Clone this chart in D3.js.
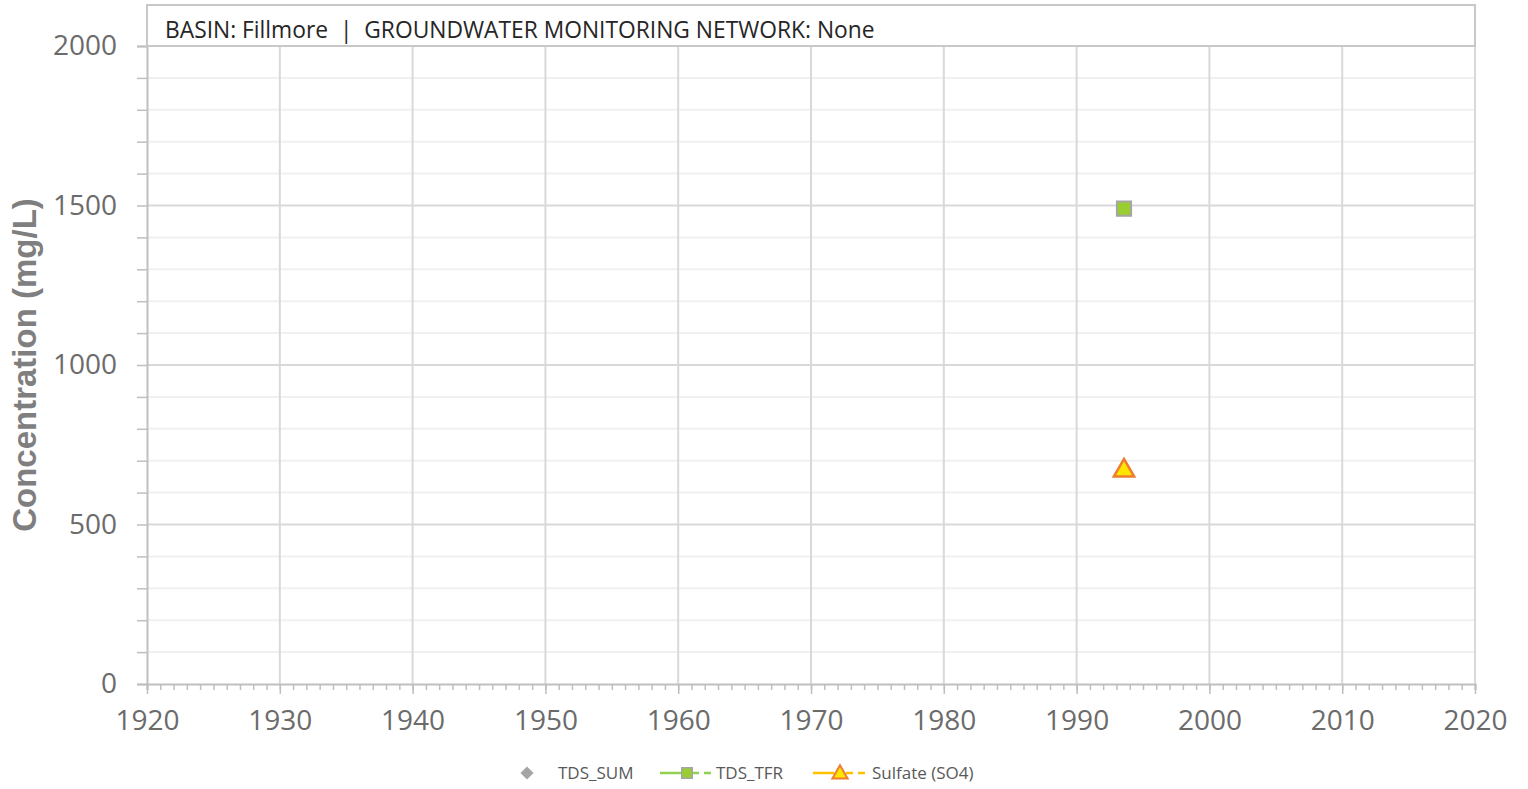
<!DOCTYPE html>
<html>
<head>
<meta charset="utf-8">
<script src="https://cdn.jsdelivr.net/npm/d3@7"></script>
<style>
  body { margin: 0; background: #fff; }
  svg { display: block; }
</style>
</head>
<body>
<div id="chart"></div>
<script>
// header and axis text
const headerText = "BASIN: Fillmore  |  GROUNDWATER MONITORING NETWORK: None";
const yTitle = "Concentration (mg/L)";

// x ticks (years) and y ticks
const xTickYears = [1920, 1930, 1940, 1950, 1960, 1970, 1980, 1990, 2000, 2010, 2020];
const yTicks = [0, 500, 1000, 1500, 2000];

// series data
const seriesNames = ["TDS_SUM", "TDS_TFR", "Sulfate (SO4)"];
const tdsSumDates = [];
const tdsSumValues = [];
const tdsTfrDates = ["1993-07-27"];
const tdsTfrValues = [1490];
const sulfateDates = ["1993-07-27"];
const sulfateValues = [675];

document.addEventListener("DOMContentLoaded", function() {
  drawChart();
});

function drawChart() {
  const width = 1528, height = 789;
  const margin = { left: 147, right: 53, top: 46, bottom: 105 };

  const svg = d3.select("#chart")
    .append("svg")
    .attr("width", width)
    .attr("height", height);

  const parse = d3.timeParse("%Y-%m-%d");

  const x = d3.scaleTime()
    .domain([new Date(1920, 0, 1), new Date(2020, 0, 1)])
    .range([margin.left, width - margin.right]);

  const y = d3.scaleLinear()
    .domain([0, 2000])
    .range([height - margin.bottom, margin.top]);

  // minor y gridlines every 100
  const yMinor = d3.range(100, 2000, 100).filter(v => v % 500 !== 0);
  svg.append("g")
    .selectAll("line")
    .data(yMinor)
    .enter()
    .append("line")
    .attr("x1", margin.left)
    .attr("x2", width - margin.right)
    .attr("y1", d => y(d))
    .attr("y2", d => y(d))
    .attr("stroke", "#f0f0f0")
    .attr("stroke-width", 2);

  // major y gridlines
  svg.append("g")
    .selectAll("line")
    .data(yTicks.slice(1))
    .enter()
    .append("line")
    .attr("x1", margin.left)
    .attr("x2", width - margin.right)
    .attr("y1", d => y(d))
    .attr("y2", d => y(d))
    .attr("stroke", "#d9d9d9")
    .attr("stroke-width", 2);

  // vertical gridlines at decades
  svg.append("g")
    .selectAll("line")
    .data(xTickYears.slice(1))
    .enter()
    .append("line")
    .attr("x1", d => x(new Date(d, 0, 1)))
    .attr("x2", d => x(new Date(d, 0, 1)))
    .attr("y1", y(0))
    .attr("y2", y(2000))
    .attr("stroke", "#d9d9d9")
    .attr("stroke-width", 2);

  // y axis with minor ticks on left
  const yAxisMinor = d3.axisLeft(y)
    .tickValues(d3.range(0, 2001, 100))
    .tickSize(10)
    .tickFormat("");
  const gyMinor = svg.append("g")
    .attr("transform", `translate(${margin.left},0)`)
    .call(yAxisMinor);
  gyMinor.select(".domain").attr("stroke", "#bfbfbf").attr("stroke-width", 2);
  gyMinor.selectAll(".tick line").attr("stroke", "#bfbfbf").attr("stroke-width", 1.5);

  const yAxis = d3.axisLeft(y)
    .tickValues(yTicks)
    .tickSize(0)
    .tickPadding(30)
    .tickFormat(d3.format("d"));
  const gy = svg.append("g")
    .attr("transform", `translate(${margin.left},0)`)
    .call(yAxis);
  gy.select(".domain").remove();
  gy.selectAll(".tick text")
    .attr("fill", "#6b6b6b")
    .attr("font-family", "'Open Sans', sans-serif")
    .attr("font-size", 28);

  // x axis: yearly minor ticks, decade major ticks
  const xAxisMinor = d3.axisBottom(x)
    .ticks(d3.timeYear.every(1))
    .tickSize(6)
    .tickFormat("");
  const gxMinor = svg.append("g")
    .attr("transform", `translate(0,${y(0)})`)
    .call(xAxisMinor);
  gxMinor.select(".domain").attr("stroke", "#bfbfbf").attr("stroke-width", 2);
  gxMinor.selectAll(".tick line").attr("stroke", "#bfbfbf").attr("stroke-width", 1.5);

  const xAxis = d3.axisBottom(x)
    .tickValues(xTickYears.map(v => new Date(v, 0, 1)))
    .tickSize(10)
    .tickPadding(16)
    .tickFormat(d3.timeFormat("%Y"));
  const gx = svg.append("g")
    .attr("transform", `translate(0,${y(0)})`)
    .call(xAxis);
  gx.select(".domain").remove();
  gx.selectAll(".tick line").attr("stroke", "#bfbfbf").attr("stroke-width", 1.5);
  gx.selectAll(".tick text")
    .attr("fill", "#6b6b6b")
    .attr("font-family", "'Open Sans', sans-serif")
    .attr("font-size", 28);

  // header box on top of the plot
  svg.append("rect")
    .attr("x", margin.left)
    .attr("y", 5)
    .attr("width", width - margin.right - margin.left)
    .attr("height", margin.top - 5)
    .attr("fill", "#fff")
    .attr("stroke", "#c8c8c8")
    .attr("stroke-width", 2);

  svg.append("text")
    .attr("x", 165)
    .attr("y", 38)
    .attr("fill", "#262626")
    .attr("font-family", "'Open Sans', sans-serif")
    .attr("font-size", 22.8)
    .attr("xml:space", "preserve")
    .text(headerText);

  // y axis title
  svg.append("text")
    .attr("transform", "rotate(-90)")
    .attr("x", -(y(0) + y(2000)) / 2)
    .attr("y", 36)
    .attr("text-anchor", "middle")
    .attr("fill", "#7f7f7f")
    .attr("font-family", "'Liberation Sans', Arial, sans-serif")
    .attr("font-weight", "bold")
    .attr("font-size", 33)
    .text(yTitle);

  // series
  const line = d3.line().x(d => x(d.date)).y(d => y(d.value));

  const tdsSum = tdsSumDates.map((d, i) => ({ date: parse(d), value: tdsSumValues[i] }));
  const tdsTfr = tdsTfrDates.map((d, i) => ({ date: parse(d), value: tdsTfrValues[i] }));
  const sulfate = sulfateDates.map((d, i) => ({ date: parse(d), value: sulfateValues[i] }));

  svg.append("path").datum(tdsTfr)
    .attr("d", line).attr("fill", "none")
    .attr("stroke", "#92d050").attr("stroke-width", 2.5).attr("stroke-dasharray", "8,6");
  svg.append("path").datum(sulfate)
    .attr("d", line).attr("fill", "none")
    .attr("stroke", "#ffc000").attr("stroke-width", 2.5).attr("stroke-dasharray", "8,6");

  const diamond = d3.symbol().type(d3.symbolDiamond2).size(150);
  const square = d3.symbol().type(d3.symbolSquare).size(200);
  const triangle = d3.symbol().type(d3.symbolTriangle).size(180);

  svg.append("g").selectAll("path")
    .data(tdsSum).enter().append("path")
    .attr("transform", d => `translate(${x(d.date)},${y(d.value)})`)
    .attr("d", diamond)
    .attr("fill", "#a5a5a5");

  svg.append("g").selectAll("path")
    .data(tdsTfr).enter().append("path")
    .attr("transform", d => `translate(${x(d.date)},${y(d.value)})`)
    .attr("d", square)
    .attr("fill", "#9acd32")
    .attr("stroke", "#a5a5a5")
    .attr("stroke-width", 2);

  svg.append("g").selectAll("path")
    .data(sulfate).enter().append("path")
    .attr("transform", d => `translate(${x(d.date)},${y(d.value) + 2})`)
    .attr("d", triangle)
    .attr("fill", "#ffe500")
    .attr("stroke", "#ed7d31")
    .attr("stroke-width", 2.5);

  // legend
  const legendY = 773;
  const lg = svg.append("g")
    .attr("font-family", "'Open Sans', sans-serif")
    .attr("font-size", 17)
    .attr("fill", "#595959");

  lg.append("path")
    .attr("transform", `translate(527,${legendY})`)
    .attr("d", d3.symbol().type(d3.symbolDiamond2).size(110))
    .attr("fill", "#a5a5a5");
  lg.append("text").attr("x", 558).attr("y", legendY + 6).text(seriesNames[0]);

  lg.append("line").attr("x1", 660).attr("x2", 682).attr("y1", legendY).attr("y2", legendY)
    .attr("stroke", "#92d050").attr("stroke-width", 2.5);
  lg.append("line").attr("x1", 692).attr("x2", 714).attr("y1", legendY).attr("y2", legendY)
    .attr("stroke", "#92d050").attr("stroke-width", 2.5).attr("stroke-dasharray", "7,5");
  lg.append("path")
    .attr("transform", `translate(687,${legendY})`)
    .attr("d", d3.symbol().type(d3.symbolSquare).size(110))
    .attr("fill", "#9acd32").attr("stroke", "#a5a5a5").attr("stroke-width", 1.5);
  lg.append("text").attr("x", 716).attr("y", legendY + 6).text(seriesNames[1]);

  lg.append("line").attr("x1", 813).attr("x2", 834).attr("y1", legendY).attr("y2", legendY)
    .attr("stroke", "#ffc000").attr("stroke-width", 2.5);
  lg.append("line").attr("x1", 846).attr("x2", 868).attr("y1", legendY).attr("y2", legendY)
    .attr("stroke", "#ffc000").attr("stroke-width", 2.5).attr("stroke-dasharray", "7,5");
  lg.append("path")
    .attr("transform", `translate(840,${legendY + 1})`)
    .attr("d", d3.symbol().type(d3.symbolTriangle).size(100))
    .attr("fill", "#ffe500").attr("stroke", "#ed7d31").attr("stroke-width", 2);
  lg.append("text").attr("x", 872).attr("y", legendY + 6).text(seriesNames[2]);
}
</script>
</body>
</html>
